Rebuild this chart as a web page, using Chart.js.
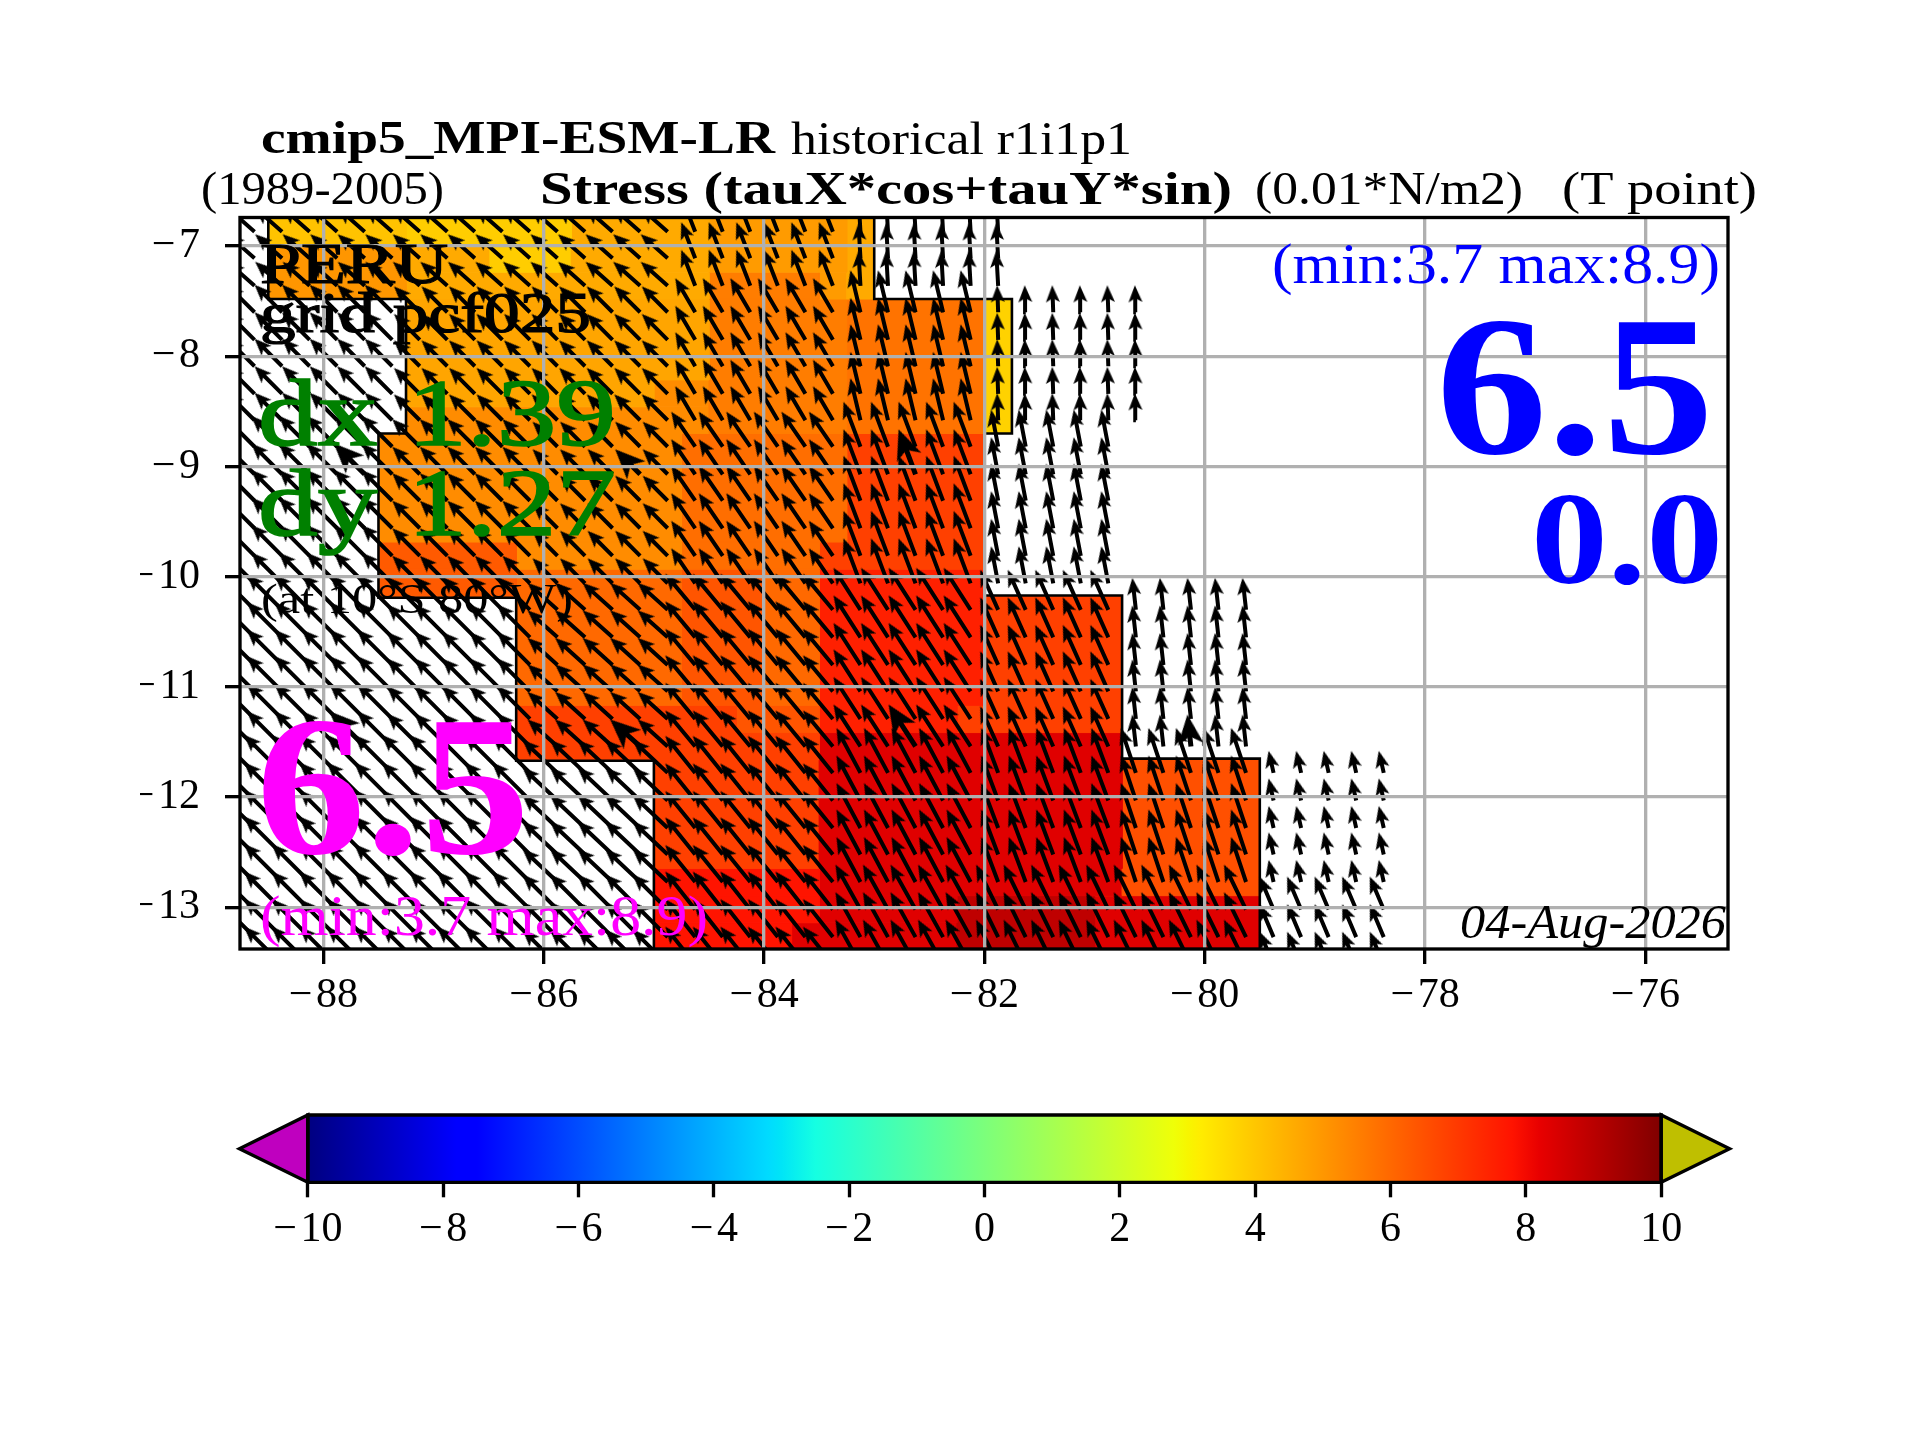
<!DOCTYPE html>
<html>
<head>
<meta charset="utf-8">
<title>Stress</title>
<script src="https://cdn.jsdelivr.net/npm/chart.js@4/dist/chart.umd.min.js"></script>
<style>
    html, body { margin: 0; padding: 0; background: #fff; }
    canvas { position: absolute; left: 0; }
    #map_chart { top: 0; }
    #cbar_chart { top: 1090px; }
</style>
</head>
<body>
<canvas id="map_chart" width="1920" height="1090"></canvas>
<canvas id="cbar_chart" width="1920" height="350"></canvas>
<script>
const x_tick_values = [-88, -86, -84, -82, -80, -78, -76];
const y_tick_values = [-13, -12, -11, -10, -9, -8, -7];
const cbar_tick_values = [-10, -8, -6, -4, -2, 0, 2, 4, 6, 8, 10];

// row edges of the model grid, degrees north
const lat_edges = [-6.745, -6.99, -7.236, -7.48, -7.725, -7.97, -8.214, -8.458, -8.70, -8.945, -9.19, -9.437, -9.685, -9.932,
    -10.18, -10.427, -10.674, -10.92, -11.167, -11.414, -11.66, -11.907, -12.154, -12.40, -12.647, -12.894, -13.14, -13.41];

// stress patches: first row, last row, west lon, east lon, value
const stress_patches = [
    [0, 0, -88.5, -87.25, 4.07], [0, 0, -87.25, -85.75, 3.86], [0, 1, -85.75, -84.5, 4.6], [0, 1, -84.5, -83.25, 4.92], [0, 2, -83.25, -83, 4.6],
    [1, 2, -88.5, -87.25, 5.02], [1, 1, -87.25, -86.5, 4.6], [1, 1, -86.5, -85.75, 3.86],
    [2, 2, -87.25, -84.5, 4.6], [2, 2, -84.5, -83.5, 5.55], [2, 2, -83.5, -83.25, 4.92],
    [3, 5, -87.25, -84.5, 4.71], [3, 7, -84.5, -83.25, 5.55], [3, 7, -83.25, -82, 5.76], [3, 7, -82, -81.75, 3.75],
    [6, 6, -87.25, -85, 4.71], [6, 6, -85, -84.5, 5.24], [7, 7, -87.25, -84.5, 5.24],
    [8, 11, -87.5, -84.75, 5.24], [8, 11, -84.75, -83.25, 5.87], [8, 11, -83.25, -82, 6.84],
    [12, 12, -87.5, -86.25, 6.29], [12, 12, -86.25, -84.75, 5.24], [12, 12, -84.75, -83.5, 5.87], [12, 12, -83.5, -82, 6.84],
    [13, 13, -87.5, -86.25, 6.29], [13, 17, -86.25, -84.75, 5.98], [13, 17, -84.75, -84, 6.4], [13, 17, -84, -83.5, 5.98], [13, 17, -83.5, -82, 7.52],
    [14, 18, -82, -80.75, 6.84],
    [18, 18, -86.25, -84.25, 6.84], [18, 18, -84.25, -83.5, 6.4], [18, 18, -83.5, -82.25, 7.52], [18, 18, -82.25, -82, 6.84],
    [19, 19, -86.25, -83.5, 6.84], [19, 23, -83.5, -80.75, 8.34],
    [20, 23, -85, -83.5, 6.84], [20, 24, -80.75, -79.5, 6.51],
    [24, 24, -85, -83.5, 7.78], [24, 24, -83.5, -80.75, 8.34], [24, 24, -81, -80.75, 6.51],
    [25, 25, -85, -83.5, 7.78], [25, 25, -83.5, -82.25, 8.34], [25, 26, -82.25, -81, 8.9], [25, 26, -81, -79.5, 8.34],
    [26, 26, -85, -83.75, 7.78], [26, 26, -83.75, -82.25, 8.34]
];

// mask outline, west and east side of the ocean patch
const outline_west_lon = [-88.5, -88.5, -87.25, -87.25, -87.5, -87.5, -86.25, -86.25, -85, -85];
const outline_west_lat = [-6.74, -7.48, -7.48, -8.70, -8.70, -10.19, -10.19, -11.67, -11.67, -13.38];
const outline_east_lon = [-83, -83, -81.75, -81.75, -82, -82, -80.75, -80.75, -79.5, -79.5];
const outline_east_lat = [-6.74, -7.48, -7.48, -8.70, -8.70, -10.17, -10.17, -11.65, -11.65, -13.38];

// arrow tails
const arrow_lons = [-88.625, -88.375, -88.125, -87.875, -87.625, -87.375, -87.125, -86.875, -86.625, -86.375, -86.125, -85.875, -85.625, -85.375,
    -85.125, -84.875, -84.625, -84.375, -84.125, -83.875, -83.625, -83.375, -83.125, -82.875, -82.625, -82.375, -82.125, -81.875,
    -81.625, -81.375, -81.125, -80.875, -80.625, -80.375, -80.125, -79.875, -79.625, -79.375, -79.125, -78.875, -78.625, -78.375];
const arrow_lats = [-6.87, -7.11, -7.36, -7.60, -7.85, -8.09, -8.34, -8.58, -8.82, -9.07, -9.31, -9.56, -9.81, -10.06,
    -10.30, -10.55, -10.80, -11.04, -11.29, -11.54, -11.78, -12.03, -12.28, -12.52, -12.77, -13.02, -13.27, -13.52];
// last arrow column of each row
const arrow_row_east = [-81.875, -81.875, -81.875, -80.625, -80.625, -80.625, -80.625, -80.625, -80.875, -80.875, -80.875, -80.875, -80.875, -80.875,
    -79.625, -79.625, -79.625, -79.625, -79.625, -79.625, -78.375, -78.375, -78.375, -78.375, -78.375, -78.375, -78.375, -78.375];

// wind vectors come in blocks. first row of each block, east lon of each column block
const wind_row_start = [0, 3, 8, 14, 20, 25];
const wind_col_east = [-87.25, -86, -84.75, -83.25, -82, -80.75, -79.5, -78];
const wind_u = [
    [-0.245, -0.245, -0.245, -0.127, -0.018, -0.018, -0.018, -0.018],
    [-0.25, -0.235, -0.235, -0.181, -0.091, -0.009, -0.009, -0.009],
    [-0.28, -0.25, -0.227, -0.218, -0.154, -0.064, -0.064, -0.064],
    [-0.32, -0.299, -0.272, -0.272, -0.245, -0.163, -0.032, -0.032],
    [-0.345, -0.345, -0.318, -0.272, -0.218, -0.154, -0.136, -0.045],
    [-0.345, -0.345, -0.318, -0.272, -0.227, -0.2, -0.2, -0.127]
];
const wind_v = [
    [0.218, 0.218, 0.218, 0.327, 0.318, 0.318, 0.318, 0.318],
    [0.25, 0.235, 0.235, 0.309, 0.381, 0.245, 0.245, 0.245],
    [0.28, 0.25, 0.227, 0.318, 0.408, 0.336, 0.336, 0.336],
    [0.32, 0.299, 0.245, 0.327, 0.381, 0.363, 0.29, 0.29],
    [0.345, 0.345, 0.299, 0.336, 0.408, 0.408, 0.408, 0.2],
    [0.345, 0.345, 0.318, 0.345, 0.408, 0.408, 0.408, 0.299]
];
// every tenth arrow is drawn with a big head
const big_arrow_rows = [9, 19];
const big_arrow_lons = [-87.625, -85.125, -82.625, -80.125];

const cbar_stops = [0, 0.11, 0.125, 0.34, 0.35, 0.375, 0.64, 0.65, 0.66, 0.89, 0.91, 1];

const jet_r = [[0, 0], [0.35, 0], [0.66, 1], [0.89, 1], [1, 0.5]];
const jet_g = [[0, 0], [0.125, 0], [0.375, 1], [0.64, 1], [0.91, 0], [1, 0]];
const jet_b = [[0, 0.5], [0.11, 1], [0.34, 1], [0.65, 0], [1, 0]];

const serif_font = '"Liberation Serif"';
const deg_px = 110.2;

function jet_channel(table, f) {
    for (let i = 1; i < table.length; i++) {
        if (f <= table[i][0]) {
            const t = (f - table[i - 1][0]) / (table[i][0] - table[i - 1][0]);
            return Math.round(255 * (table[i - 1][1] + t * (table[i][1] - table[i - 1][1])));
        }
    }
    return Math.round(255 * table[table.length - 1][1]);
}

function jet_color(f) {
    return `rgb(${jet_channel(jet_r, f)},${jet_channel(jet_g, f)},${jet_channel(jet_b, f)})`;
}

function value_color(v) {
    return jet_color((v + 10) / 20);
}

function minus_label(v) {
    return v < 0 ? '\u2212\u200a' + Math.abs(v) : String(v);
}

function make_head(length, half_width, notch) {
    const c = document.createElement('canvas');
    c.width = Math.ceil(half_width * 2);
    c.height = length;
    const g = c.getContext('2d');
    g.fillStyle = '#000';
    g.beginPath();
    g.moveTo(half_width, 0);
    g.lineTo(half_width * 2, length);
    g.lineTo(half_width, notch);
    g.lineTo(0, length);
    g.closePath();
    g.fill();
    return c;
}

function patch_datasets() {
    return stress_patches.map(p => {
        const top = lat_edges[p[0]], bottom = lat_edges[p[1] + 1];
        return {
            type: 'scatter',
            showLine: true,
            data: [{x: p[2], y: top}, {x: p[3], y: top}, {x: p[3], y: bottom}, {x: p[2], y: bottom}, {x: p[2], y: top}],
            backgroundColor: value_color(p[4]),
            borderColor: value_color(p[4]),
            borderWidth: 1,
            fill: 'shape',
            pointRadius: 0,
            order: 10
        };
    });
}

function outline_dataset(lons, lats) {
    return {
        type: 'scatter',
        showLine: true,
        data: lons.map((lon, i) => ({x: lon, y: lats[i]})),
        borderColor: '#000',
        borderWidth: 2.6,
        pointRadius: 0,
        fill: false,
        order: 5
    };
}

function block_index(breaks, value) {
    let i = 0;
    while (i < breaks.length - 1 && value > breaks[i]) i++;
    return i;
}

function arrow_datasets() {
    const shafts = [], big_shafts = [], heads = [], big_heads = [];
    const head_angle = [], big_head_angle = [];
    arrow_lats.forEach((lat, r) => {
        let rb = 0;
        for (let i = 0; i < wind_row_start.length; i++) if (r >= wind_row_start[i]) rb = i;
        arrow_lons.forEach(lon => {
            if (lon > arrow_row_east[r]) return;
            const cb = block_index(wind_col_east, lon);
            const u = wind_u[rb][cb], v = wind_v[rb][cb];
            const len = Math.hypot(u, v);
            const big = big_arrow_rows.includes(r) && big_arrow_lons.includes(lon);
            const head_len = (big ? 30 : 17) / deg_px;
            const ux = u / len, uy = v / len;
            const tip = {x: lon + u, y: lat + v};
            const s = big ? big_shafts : shafts;
            s.push({x: lon, y: lat}, {x: tip.x - ux * head_len * 0.6, y: tip.y - uy * head_len * 0.6}, {x: null, y: null});
            const h = {x: tip.x - ux * head_len / 2, y: tip.y - uy * head_len / 2};
            const ang = Math.atan2(u, v) * 180 / Math.PI;
            if (big) { big_heads.push(h); big_head_angle.push(ang); }
            else { heads.push(h); head_angle.push(ang); }
        });
    });
    const shaft_set = (data, w) => ({
        type: 'scatter', showLine: true, data: data, borderColor: '#000', borderWidth: w,
        pointRadius: 0, spanGaps: false, fill: false, order: 2
    });
    const head_set = (data, angles, img, order) => ({
        type: 'scatter', data: data, pointStyle: img, pointRadius: 12,
        rotation: ctx => angles[ctx.dataIndex], order: order
    });
    return [
        shaft_set(shafts, 4),
        shaft_set(big_shafts, 5),
        head_set(heads, head_angle, make_head(17, 7, 13), 1),
        head_set(big_heads, big_head_angle, make_head(30, 13, 22), 0)
    ];
}

function fit_text(ctx, text, x, baseline, width, font, color, stroke) {
    ctx.save();
    ctx.font = font;
    ctx.fillStyle = color;
    ctx.textAlign = 'left';
    ctx.textBaseline = 'alphabetic';
    const w = ctx.measureText(text).width;
    ctx.translate(x, baseline);
    ctx.scale(width / w, 1);
    ctx.fillText(text, 0, 0);
    if (stroke) {
        ctx.strokeStyle = color;
        ctx.lineWidth = stroke;
        ctx.strokeText(text, 0, 0);
    }
    ctx.restore();
}

const frame_plugin = {
    id: 'frame_plugin',
    afterDraw(chart) {
        const c = chart.ctx, a = chart.chartArea;
        c.save();
        c.strokeStyle = '#000';
        c.lineWidth = 3.33;
        c.strokeRect(a.left, a.top, a.right - a.left, a.bottom - a.top);
        c.restore();

        const reg = px => `${px}px ${serif_font}`;
        const bold = px => `bold ${px}px ${serif_font}`;
        const ital = px => `italic ${px}px ${serif_font}`;
        fit_text(c, 'cmip5_MPI-ESM-LR', 261, 153, 514, bold(47), '#000');
        fit_text(c, 'historical r1i1p1', 791, 154, 341, reg(47), '#000');
        fit_text(c, '(1989-2005)', 201, 204, 243, reg(47), '#000');
        fit_text(c, 'Stress (tauX*cos+tauY*sin)', 540, 204, 692, bold(47), '#000');
        fit_text(c, '(0.01*N/m2)', 1255, 204, 268, reg(47), '#000');
        fit_text(c, '(T point)', 1562, 204, 195, reg(47), '#000');

        fit_text(c, 'PERU', 260, 283, 188, reg(56), '#000', 1.2);
        fit_text(c, 'grid pcf025', 260, 332, 331, reg(56), '#000', 1.2);
        fit_text(c, 'dx 1.39', 258, 445, 358, reg(96), '#008000', 1.6);
        fit_text(c, 'dy 1.27', 258, 535, 358, reg(96), '#008000', 1.6);
        fit_text(c, '(at 10\u00b0S 80\u00b0W)', 261, 613, 312, reg(42), '#000');

        fit_text(c, '6.5', 256, 853, 274, bold(200), '#ff00ff');
        fit_text(c, '(min:3.7 max:8.9)', 260, 935, 448, reg(58), '#ff00ff');
        fit_text(c, '(min:3.7 max:8.9)', 1272, 283, 448, reg(58), '#0000ff');
        fit_text(c, '6.5', 1436, 453, 278, bold(200), '#0000ff');
        fit_text(c, '0.0', 1531, 583, 192, bold(132), '#0000ff');
        fit_text(c, '04-Aug-2026', 1460, 938, 266, ital(48), '#000');
    }
};

function draw_map() {
    const datasets = patch_datasets()
        .concat([outline_dataset(outline_west_lon, outline_west_lat), outline_dataset(outline_east_lon, outline_east_lat)])
        .concat(arrow_datasets());

    new Chart(document.getElementById('map_chart'), {
        type: 'scatter',
        data: {datasets: datasets},
        options: {
            responsive: false,
            devicePixelRatio: 1,
            animation: false,
            events: [],
            layout: {padding: {left: 140, right: 192, top: 217.5, bottom: 51}},
            plugins: {legend: {display: false}, tooltip: {enabled: false}},
            scales: {
                x: {
                    type: 'linear',
                    min: -88.757,
                    max: -75.25,
                    afterBuildTicks: s => { s.ticks = x_tick_values.map(v => ({value: v})); },
                    afterFit: s => { s.height = 90; },
                    grid: {color: '#b0b0b0', lineWidth: 3.33, tickColor: '#000', tickWidth: 3.33, tickLength: 15, z: 1},
                    border: {display: false},
                    ticks: {
                        callback: v => minus_label(v),
                        font: {family: serif_font, size: 42},
                        color: '#000',
                        padding: 7,
                        maxRotation: 0,
                        autoSkip: false
                    }
                },
                y: {
                    type: 'linear',
                    min: -13.378,
                    max: -6.74,
                    afterBuildTicks: s => { s.ticks = y_tick_values.map(v => ({value: v})); },
                    afterFit: s => { s.width = 100; },
                    grid: {color: '#b0b0b0', lineWidth: 3.33, tickColor: '#000', tickWidth: 3.33, tickLength: 15, z: 1},
                    border: {display: false},
                    ticks: {
                        callback: v => minus_label(v),
                        font: {family: serif_font, size: 42},
                        color: '#000',
                        padding: 25,
                        autoSkip: false
                    }
                }
            }
        },
        plugins: [frame_plugin]
    });
}

function cbar_gradient(context) {
    const chart = context.chart;
    if (!chart.chartArea) return '#000';
    const sx = chart.scales.x;
    const g = chart.ctx.createLinearGradient(sx.getPixelForValue(-10), 0, sx.getPixelForValue(10), 0);
    cbar_stops.forEach(f => g.addColorStop(f, jet_color(f)));
    return g;
}

function draw_colorbar() {
    const tri = (lon_pts, color) => ({
        type: 'scatter', showLine: true, yAxisID: 'y2',
        data: lon_pts,
        backgroundColor: color, borderColor: '#000', borderWidth: 3.33,
        fill: 'shape', pointRadius: 0, clip: false, order: 1
    });
    new Chart(document.getElementById('cbar_chart'), {
        type: 'bar',
        data: {
            labels: [''],
            datasets: [
                {
                    indexAxis: 'y',
                    data: [[-10, 10]],
                    backgroundColor: cbar_gradient,
                    barPercentage: 1,
                    categoryPercentage: 1,
                    borderWidth: 0,
                    order: 2
                },
                tri([{x: -10, y: 0}, {x: -11.011, y: 0.5}, {x: -10, y: 1}, {x: -10, y: 0}], '#bf00bf'),
                tri([{x: 10, y: 0}, {x: 11.011, y: 0.5}, {x: 10, y: 1}, {x: 10, y: 0}], '#bfbf00'),
                {
                    type: 'scatter', showLine: true, yAxisID: 'y2',
                    data: [{x: -10, y: 0}, {x: 10, y: 0}, {x: 10, y: 1}, {x: -10, y: 1}, {x: -10, y: 0}],
                    borderColor: '#000', borderWidth: 3.33, pointRadius: 0, clip: false, fill: false, order: 0
                }
            ]
        },
        options: {
            responsive: false,
            devicePixelRatio: 1,
            animation: false,
            events: [],
            layout: {padding: {left: 239.4, right: 190.4, top: 25, bottom: 197.7}},
            plugins: {legend: {display: false}, tooltip: {enabled: false}},
            scales: {
                x: {
                    type: 'linear',
                    offset: false,
                    min: -11.011,
                    max: 11.011,
                    afterBuildTicks: s => { s.ticks = cbar_tick_values.map(v => ({value: v})); },
                    afterFit: s => { s.height = 60; },
                    grid: {offset: false, drawOnChartArea: false, tickColor: '#000', tickWidth: 3.33, tickLength: 15},
                    border: {display: false},
                    ticks: {
                        callback: v => minus_label(v),
                        font: {family: serif_font, size: 42},
                        color: '#000',
                        padding: 7,
                        maxRotation: 0,
                        autoSkip: false
                    }
                },
                y: {type: 'category', display: false},
                y2: {type: 'linear', min: 0, max: 1, display: false}
            }
        }
    });
}

draw_map();
draw_colorbar();
</script>
</body>
</html>
